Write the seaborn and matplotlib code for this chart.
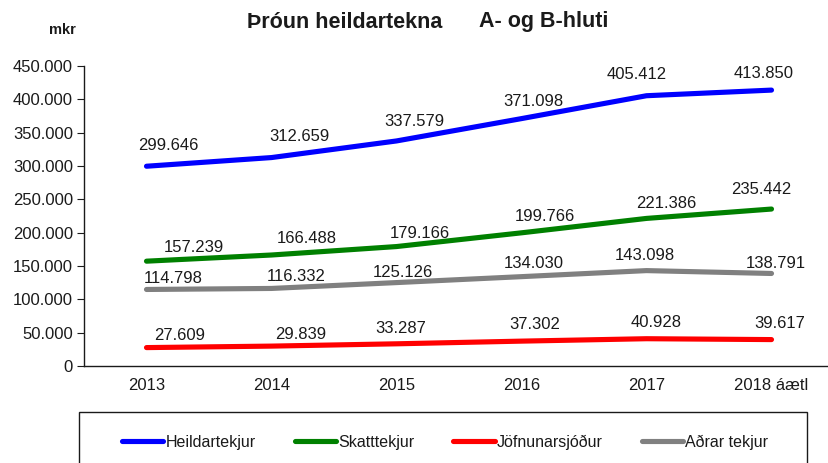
import pandas as pd
import matplotlib.pyplot as plt
import seaborn as sns
from matplotlib.patches import Rectangle

# Data (mkr)
years = ["2013", "2014", "2015", "2016", "2017", "2018 áætl"]
heildartekjur = [299646, 312659, 337579, 371098, 405412, 413850]
skatttekjur = [157239, 166488, 179166, 199766, 221386, 235442]
jofnunarsjodur = [27609, 29839, 33287, 37302, 40928, 39617]
adrar_tekjur = [114798, 116332, 125126, 134030, 143098, 138791]

series = {
    "Heildartekjur": heildartekjur,
    "Skatttekjur": skatttekjur,
    "Jöfnunarsjóður": jofnunarsjodur,
    "Aðrar tekjur": adrar_tekjur,
}
colors = {"Heildartekjur": "#0000ff", "Skatttekjur": "#008000",
          "Jöfnunarsjóður": "#ff0000", "Aðrar tekjur": "#808080"}

# label nudges in pixels (the original labels were moved by hand)
label_offsets = {
    "Heildartekjur": [(22, 21), (28, 21), (18, 19), (12, 17), (-10, 21), (-8, 17)],
    "Skatttekjur": [(47, 14), (35, 17), (23, 13), (23, 16), (20, 15), (-10, 20)],
    "Jöfnunarsjóður": [(33, 12), (29, 12), (4, 15), (13, 17), (10, 16), (8, 16)],
    "Aðrar tekjur": [(27, 11), (25, 12), (6, 10), (12, 13), (-2, 15), (4, 10)],
}

rows = []
for name, vals in series.items():
    for i, v in enumerate(vals):
        rows.append({"pos": i, "value": v, "series": name})
df = pd.DataFrame(rows)

sns.set_style("white")
plt.rcParams["font.family"] = ["Liberation Sans", "DejaVu Sans"]
txt = "#1a1a1a"

fig = plt.figure(figsize=(8.29, 4.63), dpi=100)
ax = fig.add_axes([84 / 829, 1 - 366 / 463, 750 / 829, 300 / 463])

sns.lineplot(data=df, x="pos", y="value", hue="series", palette=colors,
             linewidth=3.7, ax=ax, legend=False, solid_capstyle="round")

fmt = lambda v: f"{v:,}".replace(",", ".")

# data labels
for name, vals in series.items():
    for i, v in enumerate(vals):
        dx, dy = label_offsets[name][i]
        ax.annotate(fmt(v), (i, v), xytext=(dx, dy), textcoords="offset pixels",
                    ha="center", va="center", fontsize=12, color=txt)

ax.set_xlim(-0.5, 5.5)
ax.set_ylim(0, 450000)
ax.set_yticks(range(0, 450001, 50000))
ax.set_yticklabels([fmt(v) for v in range(0, 450001, 50000)], fontsize=12, color=txt)
ax.set_xticks([i - 0.5 for i in range(7)])
ax.set_xticklabels([])
ax.set_xticks(range(6), minor=True)
ax.set_xticklabels(years, minor=True, fontsize=12, color=txt)
ax.tick_params(axis="x", which="minor", length=0, pad=9)
ax.tick_params(axis="x", which="major", direction="in", length=4, color=txt)
ax.tick_params(axis="y", direction="out", length=5, color=txt, left=True, pad=3)
ax.set_xlabel("")
ax.set_ylabel("")
for s in ["top", "right"]:
    ax.spines[s].set_visible(False)
for s in ["left", "bottom"]:
    ax.spines[s].set_color(txt)
    ax.spines[s].set_linewidth(1)

fig.text(442 / 829, 1 - 22 / 463, "Þróun heildartekna",
         ha="right", va="center", fontsize=15.5, fontweight="bold", color=txt)
fig.text(479 / 829, 1 - 22 / 463, "A- og B-hluti",
         ha="left", va="center", fontsize=15.5, fontweight="bold", color=txt)
fig.text(62 / 829, 1 - 30 / 463, "mkr", ha="center", va="center",
         fontsize=10.5, fontweight="bold", color=txt)

# legend box (cut at bottom edge like the original)
fig.patches.append(Rectangle((79 / 829, -0.05), 728 / 829, 0.05 + 1 - 412 / 463,
                             transform=fig.transFigure, fill=False,
                             edgecolor=txt, linewidth=1))
handles = [plt.Line2D([], [], color=colors[n], linewidth=3.7,
                      solid_capstyle="round") for n in series]
leg = fig.legend(handles, list(series.keys()), loc="center",
                 bbox_to_anchor=(445 / 829, 1 - 442 / 463), ncol=4, frameon=False,
                 fontsize=11.5, handlelength=2.6, handletextpad=0.12,
                 columnspacing=2.45, borderaxespad=0, borderpad=0)
for t in leg.get_texts():
    t.set_color(txt)

fig.savefig("out.png", dpi=100)
